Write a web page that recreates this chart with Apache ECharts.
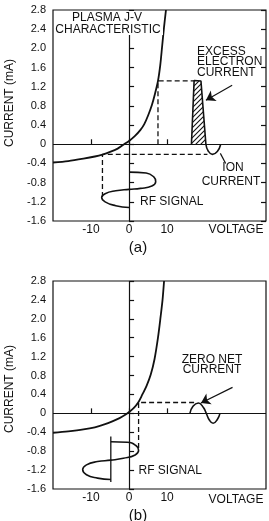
<!DOCTYPE html>
<html>
<head>
<meta charset="utf-8">
<script src="https://cdn.jsdelivr.net/npm/echarts@6/dist/echarts.min.js"></script>
<style>
html, body { margin: 0; padding: 0; background: #fff; }
#chart { width: 269px; height: 521px; }
</style>
</head>
<body>
<div id="chart"></div>
<script>
// panel (a): plasma J-V curve, RF signal and the resulting current
const jvA = [[-20, -0.38], [-16, -0.35], [-12, -0.3], [-9, -0.255], [-7, -0.215], [-5, -0.16], [-3, -0.09],
  [-1.3, 0], [0, 0.07], [1.5, 0.17], [3, 0.3], [4, 0.42], [5, 0.6], [6, 0.82], [6.8, 1.05], [7.6, 1.32],
  [8.2, 1.65], [8.7, 2.05], [9.2, 2.45], [9.7, 2.8]]
const rfA = [[0, -0.58], [4.5, -0.6], [6.5, -0.68], [7.0, -0.78], [6.0, -0.87], [3.0, -0.92], [0, -0.94],
  [-3.5, -0.97], [-6.3, -1.03], [-7.2, -1.11], [-6.3, -1.2], [-3.5, -1.28], [0, -1.32]]
const excessA = [[16.4, 0], [17.1, 1.33], [18.9, 1.32], [20.2, 0]]
const ionA = [[20.2, 0], [20.8, -0.14], [21.9, -0.21], [23.2, -0.15], [24.1, 0]]
const dashA1 = [[7.6, 0], [7.6, 1.32], [17.1, 1.32]]
const dashA2 = [[-7.0, -1.1], [-7.0, -0.21], [20.6, -0.21]]
const arrowA = [[27.1, 1.23], [20.2, 0.92]]
const ionLeader = [[24.0, -0.19], [25.4, -0.4]]

// panel (b): bias shifted, zero net current
const jvB = [[-20, -0.41], [-16, -0.38], [-12, -0.34], [-9, -0.295], [-6.5, -0.235], [-4.4, -0.17], [-2.5, -0.1],
  [-1, -0.03], [0, 0.03], [1.2, 0.11], [2.4, 0.23], [3.5, 0.4], [4.6, 0.58], [5.7, 0.82], [6.7, 1.15],
  [7.6, 1.6], [8.3, 2.05], [8.8, 2.4], [9.2, 2.8]]
const rfB = [[-4.8, -0.6], [-0.5, -0.61], [1.8, -0.68], [2.5, -0.78], [1.6, -0.88], [-1.5, -0.95], [-4.8, -0.99],
  [-8.3, -1.02], [-11.2, -1.09], [-12.2, -1.19], [-11.2, -1.3], [-8.3, -1.37], [-4.8, -1.4]]
const rfBarB = [[-4.8, -0.49], [-4.8, -1.45]]
const zeroNetB = [[16.0, 0], [16.8, 0.15], [18.2, 0.22], [19.5, 0.13], [20.3, 0], [21.1, -0.14], [22.1, -0.21],
  [23.2, -0.13], [23.9, 0]]
const dashB = [[17.1, 0.23], [2.5, 0.23], [2.5, -0.8]]
const arrowB = [[27.2, 0.55], [18.9, 0.22]]

// axes
const xTicks = [-10, 0, 10]
const xRange = [-20, 36]
const yRange = [-1.6, 2.8]
const yStep = 0.4

const FONT = '"Liberation Sans", Arial, sans-serif'
const INK = '#111'

// hatch pattern for the excess electron current
const hatch = document.createElement('canvas')
hatch.width = 5
hatch.height = 5
const hc = hatch.getContext('2d')
hc.strokeStyle = INK
hc.lineWidth = 1.1
hc.beginPath()
hc.moveTo(0, 5); hc.lineTo(5, 0)
hc.moveTo(-1, 1); hc.lineTo(1, -1)
hc.moveTo(4, 6); hc.lineTo(6, 4)
hc.stroke()

const chart = echarts.init(document.getElementById('chart'))

const makeX = (gridIndex) => ({
  type: 'value',
  gridIndex,
  min: xRange[0],
  max: xRange[1],
  axisLine: { show: false },
  splitLine: { show: false },
  axisTick: { inside: true, length: 5, customValues: xTicks, lineStyle: { color: INK, width: 1.2 } },
  axisLabel: { customValues: xTicks, color: INK, fontSize: 12, fontFamily: FONT, margin: 3 }
})

const makeY = (gridIndex, right) => ({
  type: 'value',
  gridIndex,
  position: right ? 'right' : 'left',
  min: yRange[0],
  max: yRange[1],
  interval: yStep,
  axisLine: { show: false },
  splitLine: { show: false },
  axisTick: { inside: true, length: 5, lineStyle: { color: INK, width: 1.2 } },
  axisLabel: {
    show: !right,
    color: INK,
    fontSize: 11,
    fontFamily: FONT,
    margin: 7,
    formatter: v => (Math.abs(v) < 1e-9 ? '0' : v.toFixed(1))
  }
})

const line = (data, axis, extra) => Object.assign({
  type: 'line',
  data,
  xAxisIndex: axis,
  yAxisIndex: axis,
  symbol: 'none',
  silent: true,
  lineStyle: { color: INK, width: 1.6 }
}, extra)

const zeroLines = {
  silent: true,
  symbol: 'none',
  label: { show: false },
  lineStyle: { color: INK, width: 1.2, type: 'solid' },
  data: [{ xAxis: 0 }, { yAxis: 0 }]
}

const arrow = (pts) => ({
  silent: true,
  symbol: ['none', 'arrow'],
  symbolSize: 9,
  label: { show: false },
  lineStyle: { color: INK, width: 1.2, type: 'solid' },
  data: [[{ coord: pts[0] }, { coord: pts[1] }]]
})

const dashed = { color: INK, width: 1.3, type: [5, 3] }

const txt = (text, x, y, align, size) => ({
  type: 'text',
  x, y, z: 60,
  style: {
    text,
    fill: INK,
    font: (size || 12) + 'px ' + FONT,
    textAlign: align || 'center',
    textVerticalAlign: 'middle'
  }
})

const vtxt = (text, x, y) => Object.assign(txt(text, x, y, 'center'), { rotation: Math.PI / 2 })

chart.setOption({
  animation: false,
  backgroundColor: '#fff',
  grid: [
    { left: 53, top: 10, width: 213, height: 211, show: true, borderColor: INK, borderWidth: 1.2 },
    { left: 53, top: 281, width: 213, height: 208, show: true, borderColor: INK, borderWidth: 1.2 }
  ],
  xAxis: [makeX(0), makeX(1)],
  yAxis: [makeY(0, false), makeY(1, false), makeY(0, true)],
  series: [
    line(jvA, 0, { smooth: 0.3, lineStyle: { color: INK, width: 1.8 }, markLine: zeroLines }),
    line(rfA, 0, { smooth: 0.5 }),
    line(excessA, 0, { areaStyle: { color: { image: hatch, repeat: 'repeat' }, opacity: 1 }, markLine: arrow(arrowA) }),
    line(ionA, 0, { smooth: 0.5 }),
    line(dashA1, 0, { lineStyle: dashed }),
    line(dashA2, 0, { lineStyle: dashed }),
    line(ionLeader, 0, { lineStyle: { color: INK, width: 1.2 } }),

    line(jvB, 1, { smooth: 0.3, lineStyle: { color: INK, width: 1.8 }, markLine: zeroLines }),
    line(rfB, 1, { smooth: 0.5 }),
    line(rfBarB, 1, { lineStyle: { color: INK, width: 1.3 } }),
    line(zeroNetB, 1, { smooth: 0.5, markLine: arrow(arrowB) }),
    line(dashB, 1, { lineStyle: dashed })
  ],
  graphic: [
    { type: 'rect', z: 50, shape: { x: 54, y: 11, width: 109, height: 24 }, style: { fill: '#fff' } },
    txt('PLASMA J-V', 107, 17.5),
    txt('CHARACTERISTIC', 108, 29.5),
    txt('EXCESS', 197, 51.5, 'left'),
    txt('ELECTRON', 197, 62, 'left'),
    txt('CURRENT', 197, 73, 'left'),
    txt('ION', 233, 168),
    txt('CURRENT', 231, 182),
    txt('RF SIGNAL', 140, 202, 'left'),
    txt('VOLTAGE', 236, 230),
    txt('(a)', 138, 248, 'center', 15),
    vtxt('CURRENT (mA)', 10, 103),

    txt('ZERO NET', 212, 359.5),
    txt('CURRENT', 212, 370),
    txt('RF SIGNAL', 138.5, 471, 'left'),
    txt('VOLTAGE', 236, 500),
    txt('(b)', 138, 516, 'center', 15),
    vtxt('CURRENT (mA)', 10, 389)
  ]
})
</script>
</body>
</html>
